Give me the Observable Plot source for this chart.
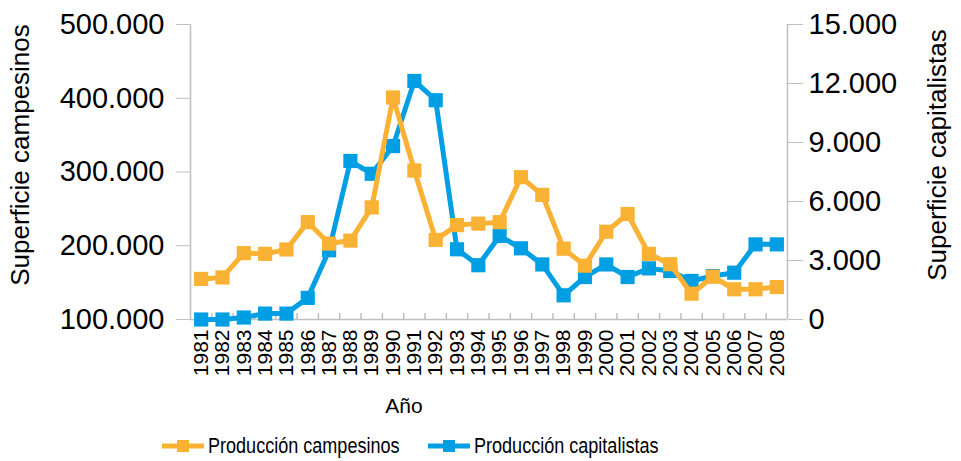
<!DOCTYPE html>
<html><head><meta charset="utf-8">
<script src="https://cdn.jsdelivr.net/npm/d3@7"></script>
<script src="https://cdn.jsdelivr.net/npm/@observablehq/plot@0.6"></script>
<style>
body{margin:0;background:#fff;font-family:"Liberation Sans",Arial,sans-serif;}
#wrap{position:relative;width:961px;height:461px;}
#legend{position:relative;height:31px;font-family:"Liberation Sans",Arial,sans-serif;font-size:22px;color:#000;}
.item{position:absolute;top:0;height:31px;display:flex;align-items:center;white-space:nowrap;}
.item svg{margin-right:4px;flex:none;}
.item span{display:inline-block;transform:scaleX(0.82);transform-origin:left center;}
</style></head><body>
<div id="wrap"><div id="chart"></div><div id="legend"></div></div>
<script>
const years = [1981,1982,1983,1984,1985,1986,1987,1988,1989,1990,1991,1992,1993,1994,1995,1996,1997,1998,1999,2000,2001,2002,2003,2004,2005,2006,2007,2008];
const campesinos = [155000,157000,190000,189000,195000,232000,203000,207000,252000,401000,302000,208000,228000,230000,232000,293000,269000,196000,173000,219000,243000,189000,175000,135000,158000,141000,141000,144000];
const capitalistas = [0,0,100,300,300,1100,3520,8060,7410,8820,12130,11150,3570,2760,4250,3620,2800,1230,2160,2800,2160,2600,2470,1960,2210,2380,3820,3820];
const leftTicks = [100000,200000,300000,400000,500000];
const rightTicks = [0,3000,6000,9000,12000,15000];
const seriesNames = ["Producción campesinos","Producción capitalistas"];
const colors = ["#F9B233","#009FE3"];
const axisTitles = {left:"Superficie campesinos", right:"Superficie capitalistas", x:"Año"};

const fmt = d3.formatLocale({decimal:",",thousands:".",grouping:[3],currency:["$",""]}).format(",.0f");
const L0 = leftTicks[0], L1 = leftTicks[leftTicks.length-1], R1 = rightTicks[rightTicks.length-1];
const toLeft = v => L0 + v / R1 * (L1 - L0);
const fromLeft = v => (v - L0) / (L1 - L0) * R1;
const data = years.map((y,i)=>({year:y, camp:campesinos[i], cap:toLeft(capitalistas[i])}));
const x0 = years[0]-0.5, x1 = years[years.length-1]+0.5;
const bounds = years.slice(1).map(y=>y-0.5);
const grey = "#bfbfbf";
const sansFont = "Liberation Sans, Arial, sans-serif";

const plot = Plot.plot({
  width:961, height:430, marginLeft:190, marginRight:174, marginTop:24, marginBottom:111,
  x:{type:"linear", domain:[x0,x1]},
  y:{domain:[L0,L1]},
  style:{fontFamily:sansFont, background:"#fff", color:"#000", overflow:"visible"},
  marks:[
    Plot.ruleX(bounds, {stroke:grey, strokeWidth:1.5, insetTop:289}),
    Plot.ruleX([x0, x1], {stroke:grey, strokeWidth:1.5}),
    Plot.ruleY([L0], {stroke:grey, strokeWidth:1.5}),
    Plot.axisY(leftTicks, {anchor:"left", tickFormat:fmt, tickSize:14, tickPadding:12, fontSize:29, stroke:grey, fill:"#000", label:null}),
    Plot.axisY(rightTicks.map(toLeft), {anchor:"right", tickFormat:d=>fmt(Math.round(fromLeft(d))), tickSize:15, tickPadding:6, fontSize:29, stroke:grey, fill:"#000", label:null}),
    Plot.axisX(years, {tickSize:0, tickPadding:10, tickRotate:-90, fontSize:21, tickFormat:d=>String(d), label:null}),
    Plot.text([axisTitles.left], {frameAnchor:"left", textAnchor:"middle", rotate:-90, dx:-170, dy:-17, fontSize:26, fill:"#000"}),
    Plot.text([axisTitles.right], {frameAnchor:"right", textAnchor:"middle", rotate:-90, dx:150, dy:-17, fontSize:26, fill:"#000"}),
    Plot.text([axisTitles.x], {frameAnchor:"bottom", textAnchor:"middle", dx:-85, dy:93, fontSize:21, fill:"#000"}),
    Plot.line(data, {x:"year", y:"cap", stroke:colors[1], strokeWidth:5}),
    Plot.dot(data, {x:"year", y:"cap", symbol:"square", r:8, fill:colors[1]}),
    Plot.line(data, {x:"year", y:"camp", stroke:colors[0], strokeWidth:5}),
    Plot.dot(data, {x:"year", y:"camp", symbol:"square", r:8, fill:colors[0]})
  ]
});
document.getElementById("chart").appendChild(plot);

const legend = d3.select("#legend");
const lefts = [162, 428];
seriesNames.forEach((name,i)=>{
  const item = legend.append("div").attr("class","item").style("left", lefts[i]+"px");
  const s = item.append("svg").attr("width",42).attr("height",14);
  s.append("line").attr("x1",0).attr("x2",42).attr("y1",7).attr("y2",7).attr("stroke",colors[i]).attr("stroke-width",5);
  s.append("rect").attr("x",15).attr("y",1).attr("width",12).attr("height",12).attr("fill",colors[i]);
  item.append("span").text(name);
});
</script></body></html>
